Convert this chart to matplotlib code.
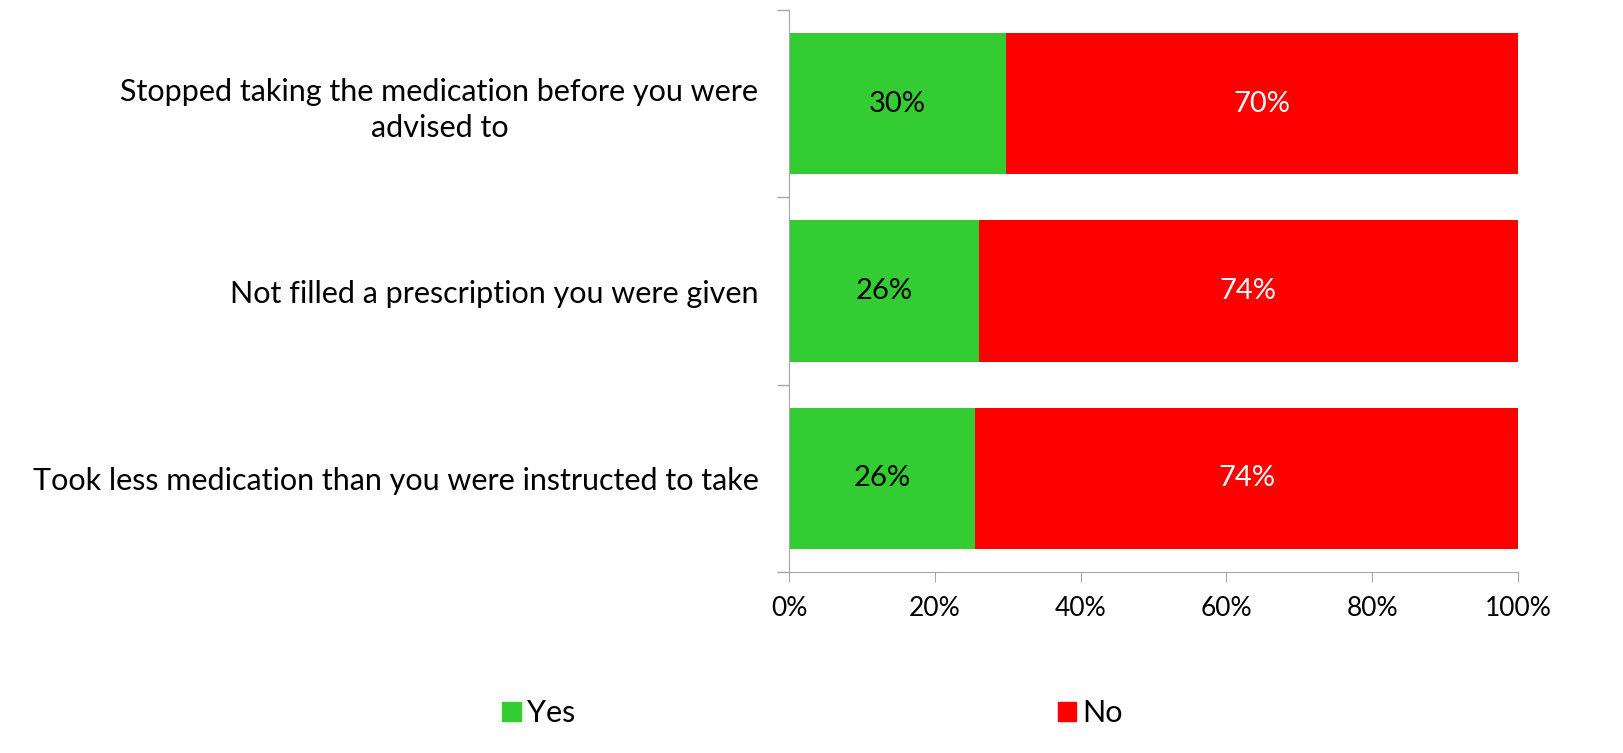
import matplotlib
matplotlib.use('Agg')
import matplotlib.pyplot as plt
from matplotlib.patches import Patch
from matplotlib.ticker import FuncFormatter

plt.rcParams['font.family'] = ['Lato', 'DejaVu Sans']

categories = ['Stopped taking the medication before you were\nadvised to',
              'Not filled a prescription you were given',
              'Took less medication than you were instructed to take']
yes_values = [29.7, 26.0, 25.5]
no_values = [70.3, 74.0, 74.5]
yes_labels = ['30%', '26%', '26%']
no_labels = ['70%', '74%', '74%']

green = '#33cc33'
red = '#ff0000'
grey = '#a6a6a6'

fig = plt.figure(figsize=(16.23, 7.53), dpi=100)
ax = fig.add_axes([789 / 1623, 1 - 572 / 753, (1518 - 789) / 1623, (572 - 10) / 753])

pos = list(range(len(categories)))
ax.barh(pos, yes_values, height=0.755, color=green)
ax.barh(pos, no_values, left=yes_values, height=0.755, color=red)

for i in pos:
    ax.text(yes_values[i] / 2, i, yes_labels[i], ha='center', va='center',
            fontsize=21, color='black')
    ax.text(yes_values[i] + no_values[i] / 2, i, no_labels[i], ha='center',
            va='center', fontsize=21, color='white')

ax.set_xlim(0, 100)
ax.set_ylim(2.5, -0.5)
ax.set_xticks([0, 20, 40, 60, 80, 100])
ax.xaxis.set_major_formatter(FuncFormatter(lambda v, _: '%d%%' % v))
ax.set_yticks(pos)
ax.set_yticklabels(categories, fontsize=22, linespacing=1.35)
ax.set_yticks([-0.5, 0.5, 1.5, 2.5], minor=True)
ax.tick_params(axis='y', which='major', length=0, pad=22)
ax.tick_params(axis='y', which='minor', length=9, color=grey, width=1)
ax.tick_params(axis='x', length=7, color=grey, labelsize=19, pad=10)
for lab in ax.get_yticklabels():
    lab.set_multialignment('center')

for side in ['top', 'right']:
    ax.spines[side].set_visible(False)
ax.spines['left'].set_color(grey)
ax.spines['bottom'].set_color(grey)

handles = [Patch(color=green, label='Yes'), Patch(color=red, label='No')]
fig.legend(handles=handles, loc='center left', bbox_to_anchor=(487 / 1623, 1 - 713 / 753),
           ncol=2, frameon=False, fontsize=22, handlelength=0.6, handleheight=0.6,
           handletextpad=0.2, columnspacing=15.8, borderpad=0)

fig.savefig('out.png', dpi=100)
